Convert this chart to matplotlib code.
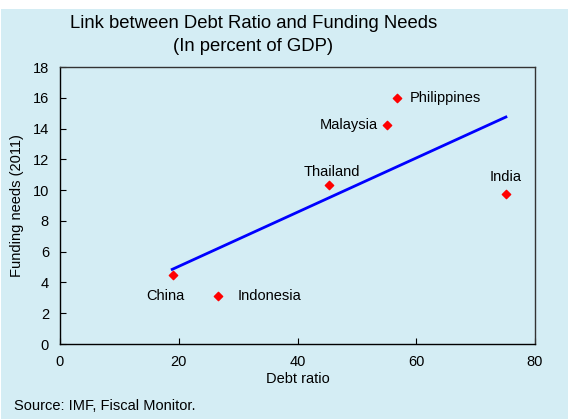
import matplotlib
matplotlib.use("Agg")
import matplotlib.pyplot as plt
from matplotlib.patches import Rectangle

countries = ['China', 'Indonesia', 'Thailand', 'Malaysia', 'Philippines', 'India']
debt = [19.0, 26.6, 45.3, 55.1, 56.8, 75.1]
funding = [4.5, 3.1, 10.3, 14.2, 16.0, 9.75]
trend_x = [18.9, 75.1]
trend_y = [4.85, 14.75]

bg = '#d4edf4'
W, H = 568, 419
fig = plt.figure(figsize=(W / 100, H / 100), dpi=100, facecolor='white')
fig.patches.append(Rectangle((1 / W, 0), 1, 1 - 9 / H, transform=fig.transFigure,
                             facecolor=bg, edgecolor='none', zorder=-10))

ax = fig.add_axes([60 / W, 1 - 344 / H, 475 / W, 277 / H])
ax.set_facecolor(bg)

ax.plot(trend_x, trend_y, color='#0000ff', lw=2, zorder=2)
ax.scatter(debt, funding, marker='D', s=18, color='#ff0000', zorder=3)

# label offsets in points
offsets = {
    'China': (-5, -15, 'center'),
    'Indonesia': (14, 0, 'left'),
    'Thailand': (2, 10, 'center'),
    'Malaysia': (-7, 0, 'right'),
    'Philippines': (9, 0, 'left'),
    'India': (0, 12, 'center'),
}
for name, x, y in zip(countries, debt, funding):
    dx, dy, ha = offsets[name]
    ax.annotate(name, (x, y), xytext=(dx, dy), textcoords='offset points',
                ha=ha, va='center', fontsize=10.5, family='Liberation Sans')

ax.set_xlim(0, 80)
ax.set_ylim(0, 18)
ax.set_xticks(range(0, 81, 20))
ax.set_yticks(range(0, 19, 2))
ax.tick_params(direction='in', length=4, labelsize=10.5, width=0.8)
ax.tick_params(axis='x', pad=8)
ax.tick_params(axis='y', pad=8)
for lab in ax.get_xticklabels() + ax.get_yticklabels():
    lab.set_family('Liberation Sans')
for s in ['top', 'right']:
    ax.spines[s].set_color('#333333')
for s in ax.spines.values():
    s.set_linewidth(1)

ax.set_xlabel('Debt ratio', fontsize=10.5, family='Liberation Sans', labelpad=2)
ax.set_ylabel('Funding needs (2011)', fontsize=10.5, family='Liberation Sans', labelpad=6)

fig.text(0.446, 1 - 23 / H, 'Link between Debt Ratio and Funding Needs', ha='center', va='center',
         fontsize=13.3, family='Liberation Sans')
fig.text(0.446, 1 - 46 / H, '(In percent of GDP)', ha='center', va='center',
         fontsize=13.3, family='Liberation Sans')
fig.text(14 / W, 1 - 406 / H, 'Source: IMF, Fiscal Monitor.', ha='left', va='center',
         fontsize=10.5, family='Liberation Sans')

fig.savefig('out.png', dpi=100, facecolor=fig.get_facecolor())
